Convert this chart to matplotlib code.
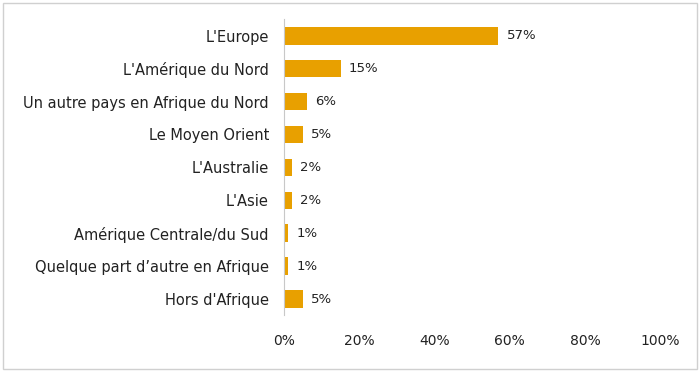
import matplotlib
matplotlib.use("Agg")
import matplotlib.pyplot as plt
from matplotlib.patches import Rectangle

categories = ["L'Europe", "L'Amérique du Nord", "Un autre pays en Afrique du Nord",
              "Le Moyen Orient", "L'Australie", "L'Asie", "Amérique Centrale/du Sud",
              "Quelque part d\u2019autre en Afrique", "Hors d'Afrique"]
valeurs = [57, 15, 6, 5, 2, 2, 1, 1, 5]
ticks = [0, 20, 40, 60, 80, 100]

plt.rcParams['font.family'] = ['DejaVu Sans']

fig = plt.figure(figsize=(7, 3.72), dpi=100)
ax = fig.add_axes([0.406, 0.152, 0.537, 0.796])

y = list(range(len(categories)))
ax.barh(y, valeurs, height=0.53, color='#E8A000')
for yi, v in zip(y, valeurs):
    ax.text(v + 2.2, yi, f'{v}%', va='center', ha='left', fontsize=9.5, color='#222222')

ax.set_xlim(0, 100)
ax.set_ylim(len(categories) - 0.5, -0.5)
ax.set_yticks(y)
ax.set_yticklabels(categories, fontsize=10.5, color='#222222')
ax.set_xticks(ticks)
ax.set_xticklabels([f'{t}%' for t in ticks], fontsize=10, color='#222222')
ax.tick_params(axis='both', length=0)
ax.tick_params(axis='x', pad=13)
ax.tick_params(axis='y', pad=11)
for s in ['top', 'right', 'bottom']:
    ax.spines[s].set_visible(False)
ax.spines['left'].set_color('#C8C8C8')
ax.spines['left'].set_linewidth(0.8)

fig.patches.append(Rectangle((0.004, 0.008), 0.992, 0.984, transform=fig.transFigure,
                             fill=False, edgecolor='#D0D0D0', linewidth=1))

fig.savefig("out.png", dpi=100)
